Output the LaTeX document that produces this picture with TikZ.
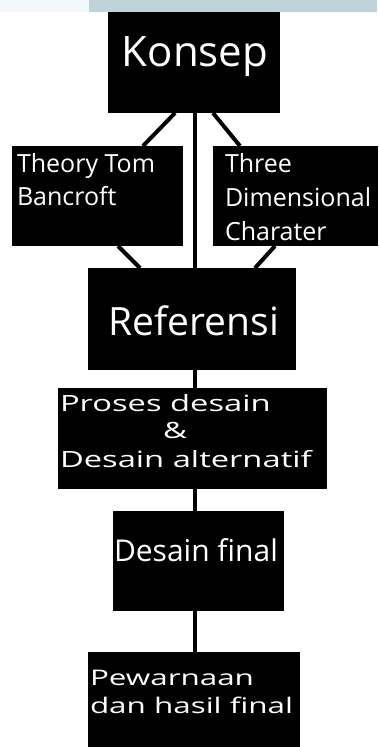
\documentclass[tikz,border=0pt]{standalone}
\usepackage{fontspec}
\setmainfont{Open Sans}
\newfontfamily\widefont[FakeStretch=1.46]{Open Sans}
\usetikzlibrary{positioning}
\begin{document}
\begin{tikzpicture}[x=1pt,y=-1pt,
  box/.style={draw=none,fill=black,inner sep=0pt,outer sep=0pt,rectangle},
  txt/.style={text=white,inner sep=0pt,outer sep=0pt},
  conn/.style={line width=4pt,black},
  big/.style={font=\fontsize{42}{48}\selectfont},
  mid/.style={font=\fontsize{25}{30}\selectfont},
  wide/.style={font=\widefont\fontsize{22.4}{26}\selectfont},
  widesm/.style={font=\widefont\fontsize{21.5}{26}\selectfont}]
\useasboundingbox (0,0) rectangle (378,747);
% top bar
\fill[fill={rgb,255:red,243;green,248;blue,251}] (0,0) rectangle (89,12);
\fill[fill={rgb,255:red,192;green,211;blue,217}] (89,0) rectangle (377,12);
% boxes
\node[box,minimum width=172,minimum height=101] (konsep) at (194,62.5) {};
\node[box,minimum width=171,minimum height=100] (theory) at (97.5,196) {};
\node[box,minimum width=165,minimum height=100] (three) at (295.5,196) {};
\node[box,minimum width=208,minimum height=102] (ref) at (192,319) {};
\node[box,minimum width=269,minimum height=101] (proses) at (192.5,438.5) {};
\node[box,minimum width=171,minimum height=100] (final) at (198.5,561) {};
\node[box,minimum width=212,minimum height=95] (pew) at (194,699.5) {};
% connectors
\draw[conn] ([xshift=67pt]konsep.south west) -- ([xshift=131pt]theory.north west);
\draw[conn] ([xshift=105pt]konsep.south west) -- ([xshift=27pt]three.north west);
\draw[conn] ([xshift=87pt]konsep.south west) -- ([xshift=107pt]ref.north west);
\draw[conn] ([xshift=106pt]theory.south west) -- ([xshift=52pt]ref.north west);
\draw[conn] ([xshift=62pt]three.south west) -- ([xshift=167pt]ref.north west);
\draw[conn] ([xshift=107pt]ref.south west) -- ([xshift=137pt]proses.north west);
\draw[conn] ([xshift=137pt]proses.south west) -- ([xshift=82pt]final.north west);
\draw[conn] ([xshift=82pt]final.south west) -- ([xshift=107pt]pew.north west);
% texts
\node[txt,big,anchor=base] (tkonsep) at (195,66) {Konsep};
\node[txt,mid,anchor=base west] (ttheory1) at (17,172) {Theory Tom};
\node[txt,mid,anchor=base west] (ttheory2) at (17,205) {Bancroft};
\node[txt,mid,anchor=base west] (tthree1) at (225,172) {Three};
\node[txt,mid,anchor=base west] (tthree2) at (225,206) {Dimensional};
\node[txt,mid,anchor=base west] (tthree3) at (225,240) {Charater};
\node[txt,font=\fontsize{39}{44}\selectfont,anchor=base] (tref) at (194,335) {Referensi};
\node[txt,wide,anchor=base west] (tpro1) at (60,411) {Proses desain};
\node[txt,wide,anchor=base west] (tpro2) at (163,438) {\&};
\node[txt,wide,anchor=base west] (tpro3) at (60,467) {Desain alternatif};
\node[txt,font=\fontsize{30}{36}\selectfont,anchor=base west] (tfinal) at (114,561) {Desain final};
\node[txt,widesm,anchor=base west] (tpew1) at (90,685) {Pewarnaan};
\node[txt,widesm,anchor=base west] (tpew2) at (90,713) {dan hasil final};
\end{tikzpicture}
\end{document}
